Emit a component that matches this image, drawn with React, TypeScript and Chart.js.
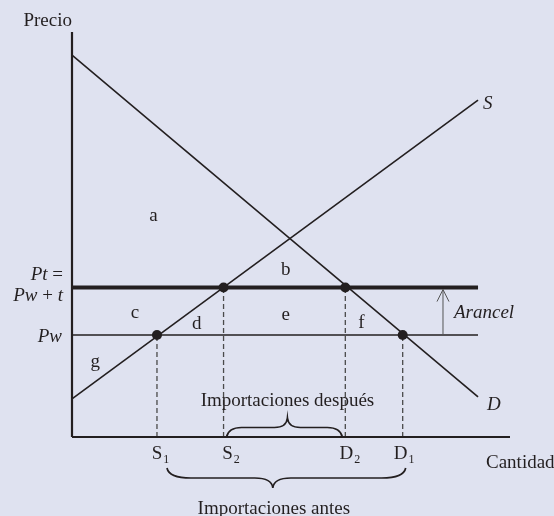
import React, { useEffect, useRef } from "react";
import { Chart, registerables } from "chart.js";

Chart.register(...registerables);

// Quantity (x) and price (y) in arbitrary units, both axes 0–100
const axisMax = 100;
const demandX = [0, 92.7];
const demandY = [94.3, 9.9];
const supplyX = [0, 92.7];
const supplyY = [9.4, 83.2];
const worldPrice = 25.2; // Pw
const tariffPrice = 36.9; // Pt = Pw + t
const priceLineEnd = 92.7;
const quantityNames = ["S", "S", "D", "D"];
const quantitySubs = ["1", "2", "2", "1"];
const quantityValues = [19.4, 34.6, 62.4, 75.5]; // S1, S2, D2, D1
const quantityPrices = [25.2, 36.9, 36.9, 25.2];
const regionNames = ["a", "b", "c", "d", "e", "f", "g"];
const regionX = [18.6, 48.8, 14.4, 28.5, 48.8, 66.1, 5.3];
const regionY = [53.3, 40.0, 29.4, 26.7, 28.9, 26.9, 17.4];
const tariffArrowX = 84.7;

const INK = "#231f20";
const DASH = "#4a4a4a";
const BG = "#dfe2f0";
const SERIF = "'Liberation Serif', 'Times New Roman', serif";
const FS = 19;

type Seg = [string, boolean];

function drawSegs(
  ctx: CanvasRenderingContext2D,
  segs: Seg[],
  x: number,
  y: number,
  align: "left" | "right" | "center",
  size: number = FS
) {
  const fonts = segs.map(([, it]) => `${it ? "italic " : ""}${size}px ${SERIF}`);
  const widths = segs.map(([t], i) => {
    ctx.font = fonts[i];
    return ctx.measureText(t).width;
  });
  const total = widths.reduce((a, b) => a + b, 0);
  let cx = align === "left" ? x : align === "right" ? x - total : x - total / 2;
  ctx.textAlign = "left";
  ctx.textBaseline = "alphabetic";
  ctx.fillStyle = INK;
  segs.forEach(([t], i) => {
    ctx.font = fonts[i];
    ctx.fillText(t, cx, y);
    cx += widths[i];
  });
}

function drawBrace(
  ctx: CanvasRenderingContext2D,
  x1: number,
  x2: number,
  tipX: number,
  y: number,
  dir: number,
  h: number,
  rEnd: number,
  rTip: number
) {
  const yf = y + dir * h;
  const yt = y + dir * 2 * h;
  ctx.beginPath();
  ctx.moveTo(x1, y);
  ctx.quadraticCurveTo(x1 + 2, yf, x1 + rEnd, yf);
  ctx.lineTo(tipX - rTip, yf);
  ctx.quadraticCurveTo(tipX - 1, yf, tipX, yt);
  ctx.quadraticCurveTo(tipX + 1, yf, tipX + rTip, yf);
  ctx.lineTo(x2 - rEnd, yf);
  ctx.quadraticCurveTo(x2 - 2, yf, x2, y);
  ctx.stroke();
}

const annotations = {
  id: "tradeAnnotations",
  afterDatasetsDraw(chart: any) {
    const ctx: CanvasRenderingContext2D = chart.ctx;
    const xs = chart.scales.x;
    const ys = chart.scales.y;
    const px = (v: number) => xs.getPixelForValue(v);
    const py = (v: number) => ys.getPixelForValue(v);
    const { left, right, top, bottom } = chart.chartArea;
    ctx.save();

    // region letters
    regionNames.forEach((n, i) => {
      drawSegs(ctx, [[n, false]], px(regionX[i]), py(regionY[i]), "center");
    });

    // axis titles
    drawSegs(ctx, [["Precio", false]], left, top - 6, "right");
    drawSegs(ctx, [["Cantidad", false]], right - 24, bottom + 31, "left");

    // price labels
    const pt = py(tariffPrice);
    const pw = py(worldPrice);
    drawSegs(ctx, [["Pt", true], [" =", false]], left - 9, pt - 7.5, "right");
    drawSegs(ctx, [["Pw", true], [" + ", false], ["t", true]], left - 9, pt + 13, "right");
    drawSegs(ctx, [["Pw", true]], left - 10, pw + 7, "right");

    // curve labels
    drawSegs(ctx, [["S", true]], px(supplyX[1]) + 5, py(supplyY[1]) + 9, "left");
    drawSegs(ctx, [["D", true]], px(demandX[1]) + 9, py(demandY[1]) + 13, "left");

    // quantity tick labels with subscripts
    const dxs = [0, 4, 1, -2];
    quantityNames.forEach((n, i) => {
      const cx = px(quantityValues[i]) + dxs[i];
      ctx.font = `${FS}px ${SERIF}`;
      const w = ctx.measureText(n).width;
      drawSegs(ctx, [[n, false]], cx, bottom + 22, "center");
      drawSegs(ctx, [[quantitySubs[i], false]], cx + w / 2 + 1, bottom + 26, "left", 12);
    });

    // tariff arrow
    const ax = px(tariffArrowX);
    ctx.strokeStyle = "#555";
    ctx.lineWidth = 1;
    ctx.beginPath();
    ctx.moveTo(ax, pw);
    ctx.lineTo(ax, pt + 2);
    ctx.moveTo(ax - 6, pt + 14);
    ctx.lineTo(ax, pt + 2);
    ctx.lineTo(ax + 6, pt + 14);
    ctx.stroke();
    drawSegs(ctx, [["Arancel", true]], ax + 11, pw - 17, "left");

    // braces
    ctx.strokeStyle = INK;
    ctx.lineWidth = 1.7;
    const s1 = px(quantityValues[0]);
    const s2 = px(quantityValues[1]);
    const d2 = px(quantityValues[2]);
    const d1 = px(quantityValues[3]);
    drawBrace(ctx, s2 + 3, d2 - 3, (s2 + d2) / 2 + 3, bottom, -1, 9.5, 15, 13);
    drawBrace(ctx, s1 + 10, d1 + 3, (s1 + d1) / 2 - 7, bottom + 31, 1, 10, 24, 18);
    drawSegs(ctx, [["Importaciones después", false]], (s2 + d2) / 2 + 3, bottom - 31, "center");
    drawSegs(ctx, [["Importaciones antes", false]], (s1 + d1) / 2 - 6, bottom + 77, "center");

    ctx.restore();
  },
};

export default function App() {
  const ref = useRef<HTMLCanvasElement>(null);
  useEffect(() => {
    if (!ref.current) return;
    const seg = (x: number[], y: number[]) => x.map((v, i) => ({ x: v, y: y[i] }));
    const line = (data: any[], width: number, extra: any = {}) => ({
      data,
      showLine: true,
      borderColor: INK,
      borderWidth: width,
      pointRadius: 0,
      clip: false as any,
      ...extra,
    });
    const dashed = quantityValues.map((q, i) =>
      line(
        [
          { x: q, y: 0 },
          { x: q, y: quantityPrices[i] },
        ],
        1.3,
        { borderColor: DASH, borderDash: [5, 3] }
      )
    );
    const chart = new Chart(ref.current, {
      type: "scatter",
      data: {
        datasets: [
          {
            data: quantityValues.map((q, i) => ({ x: q, y: quantityPrices[i] })),
            pointRadius: 5,
            pointBackgroundColor: INK,
            pointBorderColor: INK,
            pointBorderWidth: 0,
            showLine: false,
            clip: false as any,
          },
          line(
            [
              { x: 0, y: tariffPrice },
              { x: priceLineEnd, y: tariffPrice },
            ],
            4
          ),
          line(
            [
              { x: 0, y: worldPrice },
              { x: priceLineEnd, y: worldPrice },
            ],
            1.5
          ),
          line(seg(demandX, demandY), 1.6),
          line(seg(supplyX, supplyY), 1.6),
          line(
            [
              { x: 0, y: 0 },
              { x: 0, y: axisMax },
            ],
            2.2
          ),
          line(
            [
              { x: 0, y: 0 },
              { x: axisMax, y: 0 },
            ],
            2.2
          ),
          ...dashed,
        ] as any,
      },
      options: {
        animation: false,
        responsive: false,
        layout: { padding: { left: 72, top: 32, right: 44, bottom: 79 } },
        plugins: { legend: { display: false }, tooltip: { enabled: false } },
        scales: {
          x: { type: "linear", min: 0, max: axisMax, display: false },
          y: { type: "linear", min: 0, max: axisMax, display: false },
        },
        events: [],
      },
      plugins: [annotations],
    });
    return () => chart.destroy();
  }, []);
  return (
    <div
      style={{
        position: "fixed",
        left: 0,
        top: 0,
        width: 554,
        height: 516,
        background: BG,
      }}
    >
      <canvas ref={ref} width={554} height={516} style={{ display: "block" }} />
    </div>
  );
}
